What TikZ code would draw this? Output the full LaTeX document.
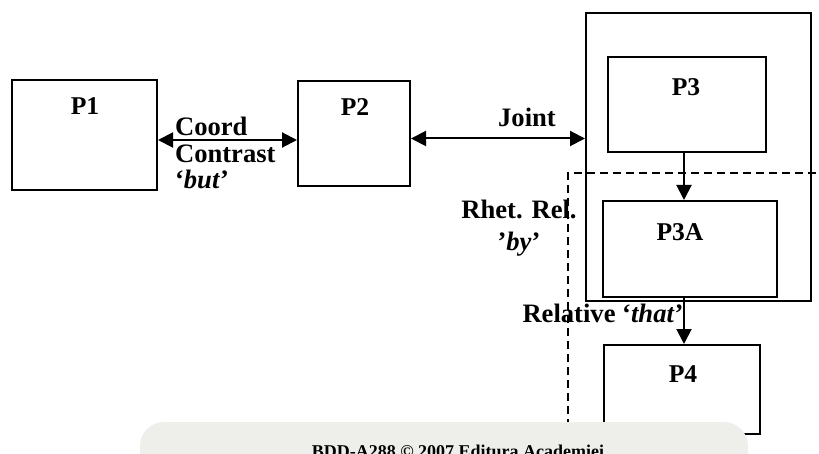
\documentclass[tikz,border=0pt]{standalone}
\usepackage{fontspec}
\setmainfont{Liberation Serif}
\usepackage{tikz}
\usetikzlibrary{positioning, arrows.meta, calc}
\definecolor{mark-gray}{HTML}{EEEEEA}

\begin{document}
\begin{tikzpicture}[x=0.5pt, y=-0.5pt,
    pbox/.style={draw, line width=1pt, inner sep=0pt},
    ptitle/.style={font=\fontsize{12.8}{14}\selectfont\bfseries},
    rel/.style={font=\fontsize{13.3}{13.3}\selectfont\bfseries},
    link/.style={line width=1pt, -{Triangle[length=7.5pt, width=7.5pt]}},
    both/.style={line width=1pt, {Triangle[length=7.5pt, width=7.5pt]}-{Triangle[length=7.5pt, width=7.5pt]}},
    dashline/.style={line width=1.4pt, dash pattern=on 4pt off 2.5pt},
]
    \useasboundingbox (0,0) rectangle (819,454);
    \clip (0,0) rectangle (819,454);

    % Boxes
    \node[pbox, minimum width=72.5pt, minimum height=55pt] (p1) at (84.5,135) {};
    \node[pbox, minimum width=56pt, minimum height=52.5pt] (p2) at (354,133.5) {};
    \node[pbox, minimum width=112.5pt, minimum height=144pt] (grp) at (698.5,157) {};
    \node[pbox, minimum width=79pt, minimum height=47.5pt] (p3) at (687,104.5) {};
    \node[pbox, minimum width=87pt, minimum height=48pt] (p3a) at (690,249) {};
    \node[pbox, minimum width=78pt, minimum height=44.5pt] (p4) at (682,389.5) {};

    % Titles
    \node[ptitle] (t1) at (85,106) {P1};
    \node[ptitle] (t2) at (355,107) {P2};
    \node[ptitle] (t3) at (686,87) {P3};
    \node[ptitle] (t3a) at (680,232) {P3A};
    \node[ptitle] (t4) at (683,374) {P4};

    % Dashed region
    \draw[dashline] (568,440) -- (568,173) -- (830,173);

    % Relations
    \draw[both] ([yshift=-2.5pt]p1.east) -- ([yshift=-2.5pt]p1.east -| p2.west);
    \draw[both] ([yshift=-2.5pt]p2.east) -- ([yshift=-2.5pt]p2.east -| grp.west);
    \draw[link] ([xshift=-1.5pt]p3.south) -- ([xshift=-1.5pt]p3.south |- p3a.north);
    \draw[link] ([xshift=-3pt]p3a.south) -- ([xshift=-3pt]p3a.south |- p4.north);

    \node[rel, align=left, anchor=west] (lcoord) at (168,153) {Coord\\Contrast\\‘\textit{but}’};
    \node[rel] (ljoint) at (527,117) {Joint};
    \node[rel, align=center] (lrhet) at (519,228) {Rhet. Rel.\\[3pt]’\textit{by}’};
    \node[rel] (lrel) at (603,313) {Relative ‘\textit{that}’};

    % Watermark
    \fill[mark-gray, rounded corners=12pt] (140,422) rectangle (748,490);
    \node[font=\fontsize{9}{10}\selectfont\bfseries, anchor=base] (wm) at (458,457)
        {BDD-A288 © 2007 Editura Academiei};

\end{tikzpicture}
\end{document}
